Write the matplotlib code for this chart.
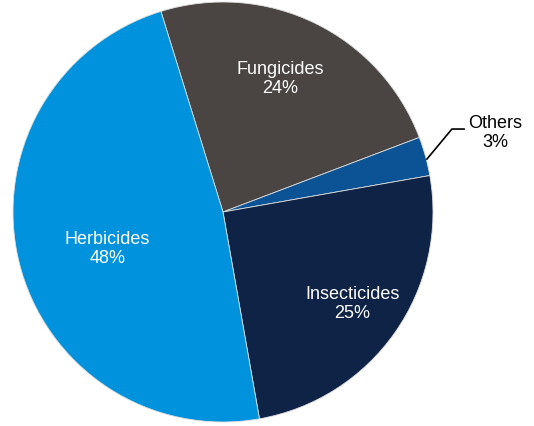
import matplotlib
matplotlib.use("Agg")
import matplotlib.pyplot as plt

labels = ["Fungicides", "Others", "Insecticides", "Herbicides"]
shares = [24, 3, 25, 48]
colors = ["#4a4543", "#0b5394", "#0f2346", "#0092dc"]

plt.rcParams['font.family'] = ['Liberation Sans', 'DejaVu Sans']

fig = plt.figure(figsize=(5.34, 4.26), dpi=100)
# pie centre at (223, 212) px, radius 210 px
ax = fig.add_axes([13 / 534, 4 / 426, 420 / 534, 420 / 426])
ax.pie(shares, colors=colors, startangle=107.2, counterclock=False,
       wedgeprops=dict(edgecolor="#dddddd", linewidth=0.6))
ax.set_xlim(-1, 1)
ax.set_ylim(-1, 1)
ax.set_aspect("equal")
ax.axis("off")

# label positions (in pie radius units)
pos = {"Fungicides": (0.271, 0.633), "Insecticides": (0.616, -0.438),
       "Herbicides": (-0.55, -0.176)}
for lab, val in zip(labels, shares):
    if lab in pos:
        x, y = pos[lab]
        ax.text(x, y, f"{lab}\n{val}%", ha="center", va="center",
                color="white", fontsize=13, linespacing=1.15)

# Others with leader line
ax.plot([0.971, 1.090, 1.148], [0.252, 0.395, 0.395], color="black",
        lw=1.2, clip_on=False)
ax.text(1.295, 0.376, f"{labels[1]}\n{shares[1]}%", ha="center", va="center",
        color="black", fontsize=13, linespacing=1.15, clip_on=False)

fig.savefig("out.png", dpi=100)
